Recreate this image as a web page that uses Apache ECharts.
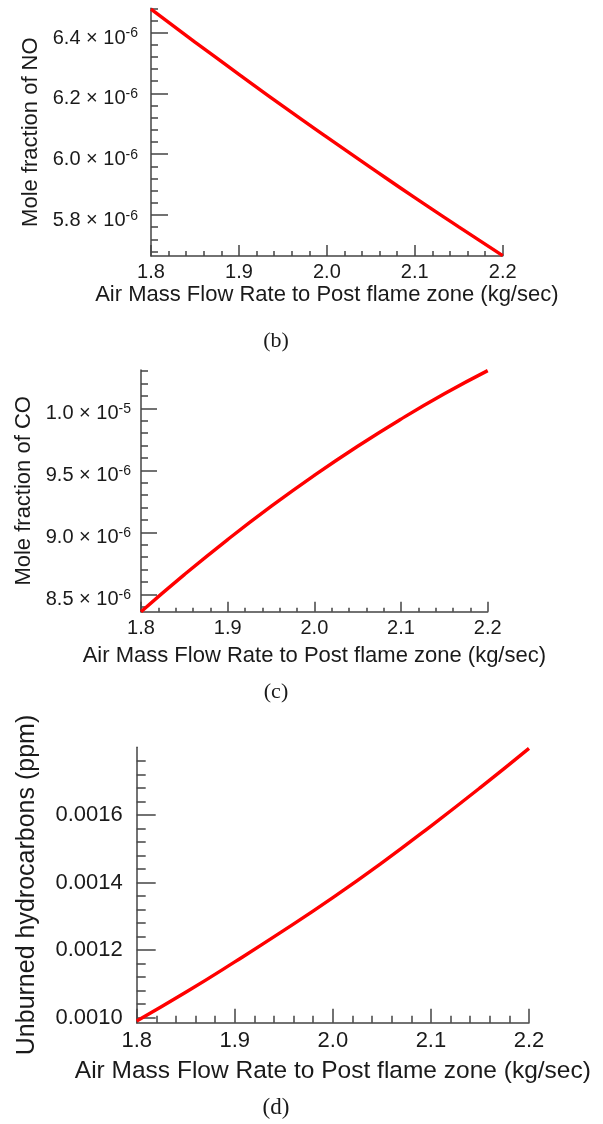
<!DOCTYPE html>
<html>
<head>
<meta charset="utf-8">
<script src="https://cdn.jsdelivr.net/npm/echarts@6/dist/echarts.min.js"></script>
<style>
    html, body { margin: 0; padding: 0; background: #fff; }
    #main { width: 603px; height: 1124px; }
</style>
</head>
<body>
<div id="main"></div>
<script>
// air mass flow rate to post flame zone (kg/sec)
var flowRate = [1.8, 1.85, 1.9, 1.95, 2.0, 2.05, 2.1, 2.15, 2.2];

// (b) mole fraction of NO
var noFraction = [6.477e-6, 6.369e-6, 6.263e-6, 6.158e-6, 6.056e-6, 5.956e-6, 5.857e-6, 5.761e-6, 5.666e-6];
var noTicks = [5.8e-6, 6.0e-6, 6.2e-6, 6.4e-6];

// (c) mole fraction of CO
var coFraction = [8.36e-6, 8.659e-6, 8.942e-6, 9.209e-6, 9.46e-6, 9.695e-6, 9.914e-6, 10.118e-6, 10.305e-6];
var coTicks = [8.5e-6, 9.0e-6, 9.5e-6, 1.0e-5];

// (d) unburned hydrocarbons (ppm)
var uhcPpm = [0.00099, 0.001075, 0.001165, 0.001258, 0.001355, 0.001458, 0.001567, 0.00168, 0.001797];
var uhcTicks = [0.0010, 0.0012, 0.0014, 0.0016];

var xTitle = 'Air Mass Flow Rate to Post flame zone (kg/sec)';
var FONT = 'Liberation Sans';
var INK = '#1a1a1a';
var AXIS = '#444';

var myChart = echarts.init(document.getElementById('main'));

function minorList(lo, hi, step) {
    var res = [];
    var k = Math.ceil(lo / step - 1e-6);
    while (k * step <= hi + step * 1e-6) {
        res.push(k * step);
        k++;
    }
    return res;
}

function sci(v) {
    var p = v.toExponential(1).split('e');
    return '{m|' + p[0] + ' \u00d7 10}{e|' + p[1] + '}';
}

function xAxisOf(g, s) {
    return {
        type: 'value',
        gridIndex: g,
        position: 'bottom',
        min: 1.8,
        max: 2.2,
        interval: 0.1,
        name: xTitle,
        nameLocation: 'middle',
        nameGap: s.xGap,
        nameTextStyle: { fontFamily: FONT, fontSize: s.xTitle, color: INK },
        axisLine: { lineStyle: { color: AXIS, width: 1.5 } },
        axisTick: { inside: true, length: s.xTick, lineStyle: { color: AXIS, width: 1.5 } },
        minorTick: { show: true, splitNumber: 5, length: s.xMinor, lineStyle: { color: AXIS, width: 1.5 } },
        axisLabel: {
            fontFamily: FONT, fontSize: s.xLab, color: INK, margin: s.xMargin,
            formatter: function (v) { return v.toFixed(1); }
        },
        splitLine: { show: false }
    };
}

function yAxesOf(g, lo, hi, ticks, minorStep, fmt, s) {
    var main = {
        type: 'value',
        gridIndex: g,
        position: 'left',
        min: lo,
        max: hi,
        name: s.yName,
        nameLocation: 'middle',
        nameGap: s.yGap,
        nameTextStyle: { fontFamily: FONT, fontSize: s.yTitle, color: INK },
        axisLine: { show: true, lineStyle: { color: AXIS, width: 1.5 } },
        axisTick: { show: true, inside: true, length: s.yTick, customValues: ticks, lineStyle: { color: AXIS, width: 1.5 } },
        axisLabel: {
            customValues: ticks,
            fontFamily: FONT, fontSize: s.yLab, color: INK, margin: s.yMargin,
            formatter: fmt,
            rich: {
                m: { fontFamily: FONT, fontSize: s.yLab, color: INK, lineHeight: 20, padding: [11, 0, 0, 0] },
                e: { fontFamily: FONT, fontSize: 14, color: INK, lineHeight: 14, padding: [4, 0, 0, 0], verticalAlign: 'top' }
            }
        },
        splitLine: { show: false }
    };
    var minor = {
        type: 'value',
        gridIndex: g,
        position: 'left',
        min: lo,
        max: hi,
        axisLine: { show: false },
        axisTick: { show: true, inside: true, length: s.yMinor, customValues: minorList(lo, hi, minorStep), lineStyle: { color: AXIS, width: 1.5 } },
        axisLabel: { show: false },
        splitLine: { show: false }
    };
    return [main, minor];
}

var sb = { xGap: 28, xTitle: 22, xTick: 11, xMinor: 5, xLab: 20, xMargin: 6,
           yName: 'Mole fraction of NO', yGap: 106, yTitle: 22, yTick: 17, yMinor: 7, yLab: 20, yMargin: 13 };
var sc = { xGap: 33, xTitle: 22, xTick: 10, xMinor: 4, xLab: 20, xMargin: 7,
           yName: 'Mole fraction of CO', yGap: 106, yTitle: 22, yTick: 16, yMinor: 7, yLab: 20, yMargin: 10 };
var sd = { xGap: 36, xTitle: 24.5, xTick: 14, xMinor: 7, xLab: 22, xMargin: 7,
           yName: 'Unburned hydrocarbons (ppm)', yGap: 97, yTitle: 25, yTick: 19, yMinor: 9, yLab: 22, yMargin: 14 };

var yb = yAxesOf(0, 5.665e-6, 6.48e-6, noTicks, 0.04e-6, sci, sb);
var yc = yAxesOf(1, 8.36e-6, 10.31e-6, coTicks, 0.1e-6, sci, sc);
var yd = yAxesOf(2, 0.000985, 0.0018, uhcTicks, 0.00004, function (v) { return v.toFixed(4); }, sd);

function pairs(ys) {
    return flowRate.map(function (x, i) { return [x, ys[i]]; });
}

function curve(xi, yi, ys) {
    return {
        type: 'line',
        xAxisIndex: xi,
        yAxisIndex: yi,
        data: pairs(ys),
        smooth: true,
        symbol: 'none',
        clip: false,
        lineStyle: { color: '#ff0000', width: 3.4 }
    };
}

var option = {
    backgroundColor: '#fff',
    animation: false,
    grid: [
        { left: 151, top: 8.3, width: 351.7, height: 247.7, containLabel: false, outerBoundsMode: 'none' },
        { left: 141, top: 370, width: 346.7, height: 241.7, containLabel: false, outerBoundsMode: 'none' },
        { left: 136.7, top: 747.3, width: 392.3, height: 275.4, containLabel: false, outerBoundsMode: 'none' }
    ],
    xAxis: [xAxisOf(0, sb), xAxisOf(1, sc), xAxisOf(2, sd)],
    yAxis: [yb[0], yb[1], yc[0], yc[1], yd[0], yd[1]],
    series: [
        curve(0, 0, noFraction),
        curve(1, 2, coFraction),
        curve(2, 4, uhcPpm)
    ],
    graphic: [
        { type: 'text', x: 276, y: 341, style: { text: '(b)', fontFamily: 'Liberation Serif', fontSize: 22, fill: INK, textAlign: 'center', textVerticalAlign: 'middle' } },
        { type: 'text', x: 276, y: 692, style: { text: '(c)', fontFamily: 'Liberation Serif', fontSize: 22, fill: INK, textAlign: 'center', textVerticalAlign: 'middle' } },
        { type: 'text', x: 276, y: 1108, style: { text: '(d)', fontFamily: 'Liberation Serif', fontSize: 23, fill: INK, textAlign: 'center', textVerticalAlign: 'middle' } }
    ]
};
myChart.setOption(option);
</script>
</body>
</html>
